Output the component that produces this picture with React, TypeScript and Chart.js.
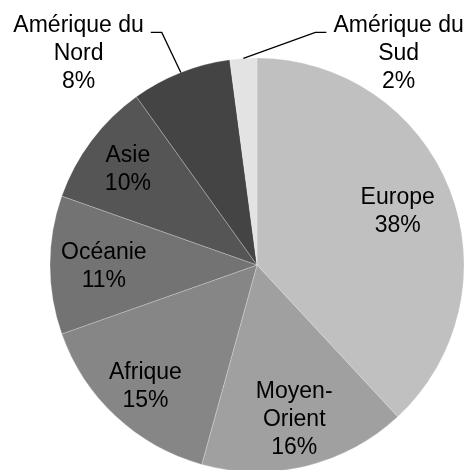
import { useEffect, useRef } from "react";
import { Chart, registerables } from "chart.js";

Chart.register(...registerables);

const categories = [
  "Europe",
  "Moyen-Orient",
  "Afrique",
  "Océanie",
  "Asie",
  "Amérique du Nord",
  "Amérique du Sud",
];
const labelLines = [
  ["Europe"],
  ["Moyen-", "Orient"],
  ["Afrique"],
  ["Océanie"],
  ["Asie"],
  ["Amérique du", "Nord"],
  ["Amérique du", "Sud"],
];
const shares = [38.1, 16.2, 15.3, 10.8, 9.7, 7.8, 2.1];
const sliceColors = ["#c0c0c0", "#a0a0a0", "#868686", "#737373", "#555555", "#444444", "#e3e3e3"];

// label placement (layout only): inside = fraction of radius along mid-angle,
// outside = offset from centre in units of the radius
const labelPlacement: any[] = [
  { inside: 0.73 },
  { inside: 0.76 },
  { inside: 0.79 },
  { inside: 0.74 },
  { inside: 0.78 },
  { dx: -0.862, dy: -1.029 },
  { dx: 0.684, dy: -1.029 },
];

const FONT = "23px 'Liberation Sans', Arial, sans-serif";
const LINE_H = 27.8;

const labelPlugin = {
  id: "sliceLabels",
  afterDatasetsDraw(chart: any) {
    const ctx = chart.ctx;
    const meta = chart.getDatasetMeta(0);
    const data = chart.data.datasets[0].data as number[];
    const total = data.reduce((a, b) => a + b, 0);
    ctx.save();
    ctx.font = FONT;
    ctx.fillStyle = "#000";
    ctx.textAlign = "center";
    ctx.textBaseline = "alphabetic";
    meta.data.forEach((arc: any, i: number) => {
      const { x, y, startAngle, endAngle, outerRadius } = arc.getProps(
        ["x", "y", "startAngle", "endAngle", "outerRadius"],
        true
      );
      const mid = (startAngle + endAngle) / 2;
      const pct = Math.round((data[i] / total) * 100) + "%";
      const lines = [...labelLines[i], pct];
      const p = labelPlacement[i];
      let cx: number, cy: number;
      if (p.inside != null) {
        cx = x + Math.cos(mid) * outerRadius * p.inside;
        cy = y + Math.sin(mid) * outerRadius * p.inside;
      } else {
        cx = x + p.dx * outerRadius;
        cy = y + p.dy * outerRadius;
      }
      const n = lines.length;
      const capHalf = 8.2;
      const baselines = lines.map((_, k) => cy + (k - (n - 1) / 2) * LINE_H + capHalf);
      lines.forEach((t, k) => ctx.fillText(t, cx, baselines[k]));
      if (p.inside == null) {
        const maxW = Math.max(...lines.map((t) => ctx.measureText(t).width));
        const ex = x + Math.cos(mid) * outerRadius;
        const ey = y + Math.sin(mid) * outerRadius;
        const dir = ex > cx ? 1 : -1;
        const sx = cx + dir * (maxW / 2 + 7);
        const sy = baselines[0];
        const elbowX = sx + dir * 11;
        ctx.beginPath();
        ctx.strokeStyle = "#000";
        ctx.lineWidth = 1.3;
        ctx.moveTo(sx, sy);
        ctx.lineTo(elbowX, sy);
        ctx.lineTo(ex, ey);
        ctx.stroke();
      }
    });
    ctx.restore();
  },
};

export default function App() {
  const ref = useRef<HTMLCanvasElement | null>(null);
  useEffect(() => {
    if (!ref.current) return;
    const chart = new Chart(ref.current, {
      type: "pie",
      data: {
        labels: categories,
        datasets: [
          {
            data: shares,
            backgroundColor: sliceColors,
            borderColor: "rgba(255,255,255,0.3)",
            borderWidth: 0.8,
          },
        ],
      },
      options: {
        animation: false,
        responsive: false,
        devicePixelRatio: 1,
        radius: 207,
        layout: { padding: { top: 60, bottom: 0, left: 51, right: 4 } },
        plugins: {
          legend: { display: false },
          tooltip: { enabled: false },
        },
      },
      plugins: [labelPlugin],
    });
    return () => chart.destroy();
  }, []);
  return (
    <div style={{ position: "fixed", left: 0, top: 0, width: 467, height: 470, background: "#fff" }}>
      <canvas ref={ref} width={467} height={470} />
    </div>
  );
}
